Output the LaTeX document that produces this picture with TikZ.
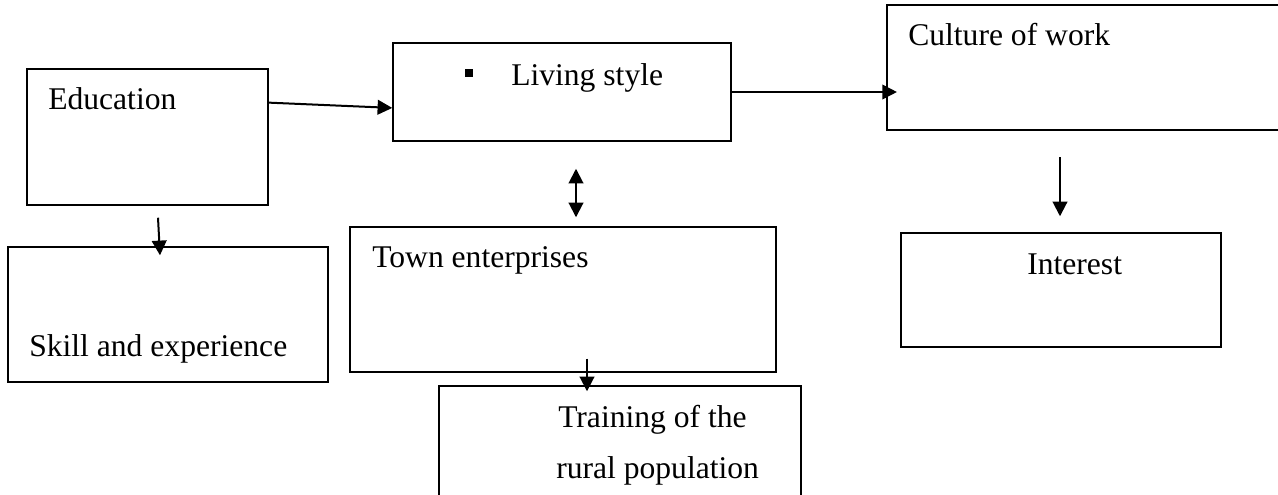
\documentclass[tikz,border=0pt]{standalone}
\usepackage{fontspec}
\setmainfont{Liberation Serif}
\usetikzlibrary{arrows.meta,calc}

\begin{document}
\begin{tikzpicture}[x=0.75pt,y=-0.75pt,
    box/.style={draw, line width=1.1pt, inner sep=0pt},
    lbl/.style={anchor=base west, inner sep=0pt, font=\fontsize{23.7}{28}\selectfont},
    link/.style={line width=1.5pt, -{Triangle[length=11pt,width=11pt]}}]
    \clip (0,0) rectangle (1278,494);
    \fill[white] (0,0) rectangle (1278,494);
    \node[box, minimum width=180.75pt, minimum height=102pt] (edu) at (147.5,137) {};
    \node[box, minimum width=240pt, minimum height=101.25pt] (skill) at (168,314.5) {};
    \node[box, minimum width=253.5pt, minimum height=73.5pt] (living) at (562,92) {};
    \node[box, minimum width=319.5pt, minimum height=108.75pt] (town) at (563,299.5) {};
    \node[box, minimum width=271.5pt, minimum height=93pt] (training) at (620,448) {};
    \node[box, minimum width=302.25pt, minimum height=93.75pt] (culture) at (1088.5,67.5) {};
    \node[box, minimum width=240pt, minimum height=85.5pt] (interest) at (1061,290) {};
    \node[lbl] (edutext) at (48,109) {Education};
    \node[lbl] (skilltext) at (29,356) {Skill and experience};
    \node[lbl] (livingtext) at (465,85) {\raisebox{6pt}{\rule{6pt}{6pt}}\hspace{28.5pt}Living style};
    \node[lbl] (towntext) at (372,267) {Town enterprises};
    \node[lbl] (traintext) at (558,427) {Training of the};
    \node[lbl] (ruraltext) at (556,478) {rural population};
    \node[lbl] (culturetext) at (908,45) {Culture of work};
    \node[lbl] (interesttext) at (1027,274) {Interest};
    \draw[link] ($(edu.north east)!0.25!(edu.south east)$) -- ($(living.north west)!0.66!(living.south west)$);
    \draw[link] (living.east) -- ([xshift=8pt]culture.west |- living.east);
    \draw[link, {Triangle[length=11pt,width=11pt]}-{Triangle[length=11pt,width=11pt]}] ($(living.south)+(14,27)$) -- ($(town.north)+(13,-9)$);
    \draw[link] ($(edu.south)+(10.5,12)$) -- ($(skill.north)+(-8,9)$);
    \draw[link] ($(interest.north)+(-1,-75)$) -- ($(interest.north)+(-1,-16)$);
    \draw[link] ($(town.south)+(24,-14)$) -- ($(training.north)+(-33,6)$);
\end{tikzpicture}
\end{document}
